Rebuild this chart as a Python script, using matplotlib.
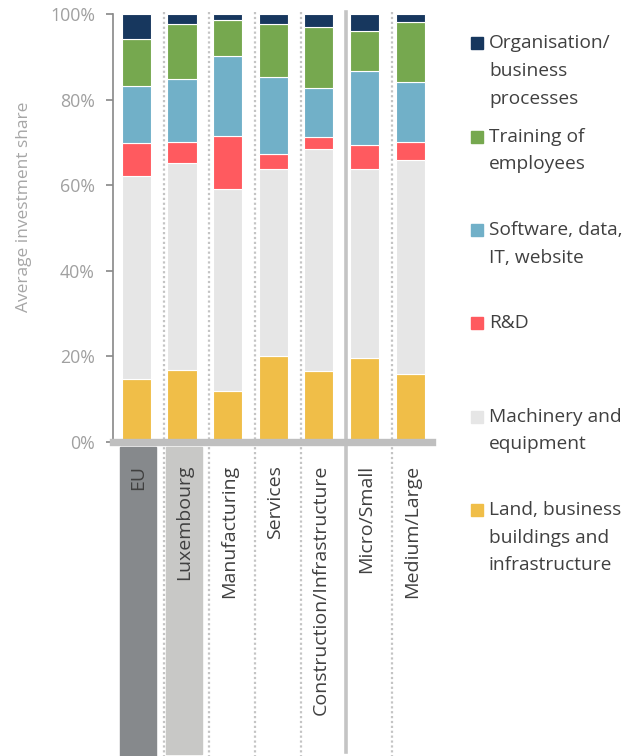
import matplotlib
matplotlib.use('agg')
import matplotlib.pyplot as plt
from matplotlib.patches import Rectangle
from matplotlib.transforms import blended_transform_factory
import numpy as np

plt.rcParams['font.family'] = ['Open Sans', 'DejaVu Sans']

groups = ['EU', 'Luxembourg', 'Manufacturing', 'Services',
          'Construction/Infrastructure', 'Micro/Small', 'Medium/Large']
series = ['Land, business\nbuildings and\ninfrastructure', 'Machinery and\nequipment', 'R&D',
          'Software, data,\nIT, website', 'Training of\nemployees', 'Organisation/\nbusiness\nprocesses']
land = [14.8, 16.9, 12.0, 20.0, 16.5, 19.6, 15.8]
machinery = [47.3, 48.3, 47.1, 43.9, 51.9, 44.1, 50.1]
rnd = [7.8, 4.8, 12.5, 3.5, 2.8, 5.8, 4.3]
software = [13.3, 14.8, 18.7, 17.9, 11.4, 17.2, 13.9]
training = [10.9, 12.8, 8.2, 12.4, 14.4, 9.3, 14.0]
organisation = [5.9, 2.4, 1.5, 2.3, 3.0, 4.0, 1.9]
colors = ['#F0BE48', '#E6E6E6', '#FF5A5F', '#71B0C8', '#76A84F', '#17375E']

W, H = 636, 756
fig = plt.figure(figsize=(W/100, H/100), dpi=100)
ax = fig.add_axes([113/W, 1-442/H, (432-113)/W, (442-14)/H])

x = np.arange(len(groups))
bottom = np.zeros(len(groups))
for vals, c in zip([land, machinery, rnd, software, training, organisation], colors):
    ax.bar(x, vals, 0.64, bottom=bottom, color=c, edgecolor='white', linewidth=0.8, zorder=2)
    bottom += np.array(vals)

ax.set_xlim(-0.515, 6.48)
ax.set_ylim(0, 100)
ax.set_yticks(np.arange(0, 101, 20))
ax.set_yticklabels([f'{v}%' for v in range(0, 101, 20)])
ax.tick_params(axis='y', colors='#888888', labelcolor='#A0A0A0', labelsize=12.8, length=5, width=1.2, pad=8)
ax.set_xticks([])
ax.set_ylabel('Average investment share', color='#A6A6A6', fontsize=12.5)
ax.yaxis.set_label_coords(-0.254, 0.549)
for s in ['top', 'right']:
    ax.spines[s].set_visible(False)
ax.spines['left'].set_color('#888888')
ax.spines['left'].set_linewidth(1.2)
ax.spines['bottom'].set_color('#BFBFBF')
ax.spines['bottom'].set_linewidth(5.3)
ax.spines['bottom'].set_zorder(3)

# separators and category label area
tr = blended_transform_factory(ax.transData, fig.transFigure)
top = 1 - 12/H
for i in range(len(groups) - 1):
    xs = i + 0.6
    if i == 4:
        ax.plot([xs, xs], [top, 1 - 752/H], transform=tr, color='#C4C4C4', lw=2.6,
                clip_on=False, zorder=1)
    else:
        ax.plot([xs, xs], [top, 0], transform=tr, color='#C4C4C4', lw=1.6,
                ls=(0, (1, 1.2)), clip_on=False, zorder=1)

ax.add_patch(Rectangle((0.04 - 0.395, 0), 0.79, 1 - 447/H, transform=tr,
                       color='#86898C', clip_on=False, zorder=0))
ax.add_patch(Rectangle((1.04 - 0.395, 2/H), 0.79, 1 - 449/H, transform=tr,
                       color='#C8C8C6', clip_on=False, zorder=0))

for i, g in enumerate(groups):
    ax.text(i + 0.04, 1 - 465/H, g, transform=tr, rotation=90, ha='center', va='top',
            fontsize=14, color='#404040')

# legend
for k, (name, c) in enumerate(zip(series[::-1], colors[::-1])):
    yc = 43.3 + 93.3 * k
    fig.patches.append(Rectangle(((470.7)/W, 1 - (yc + 6)/H), 12/W, 12/H,
                                 transform=fig.transFigure, color=c, figure=fig))
    fig.text(489/W, 1 - (yc - 9)/H, name, ha='left', va='top', fontsize=13.8,
             color='#404040', linespacing=1.7)

fig.savefig('out.png', dpi=100)
